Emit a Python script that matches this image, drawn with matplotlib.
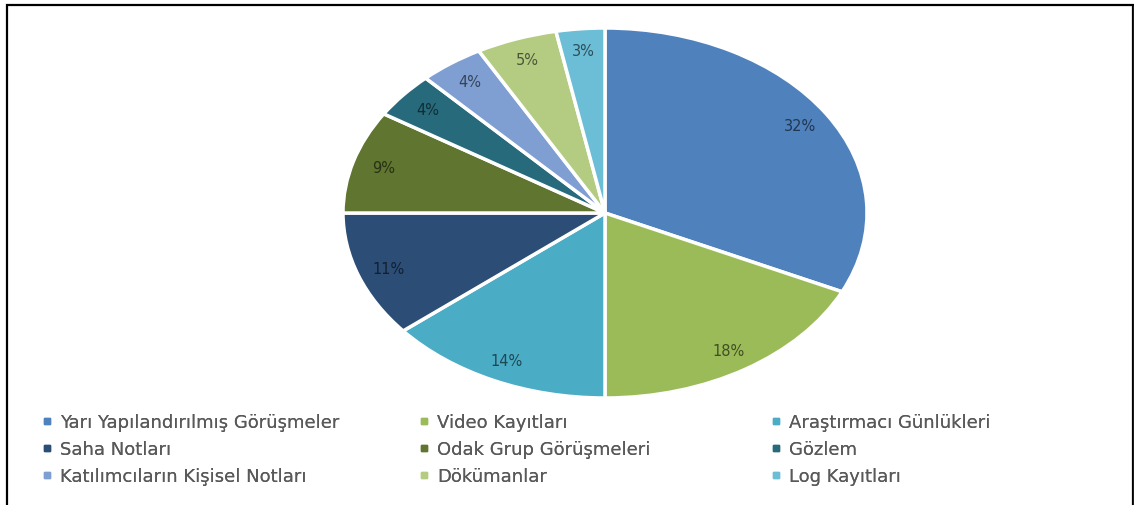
import matplotlib.pyplot as plt
from matplotlib.lines import Line2D
from matplotlib.patches import Rectangle

plt.rcParams['font.family'] = ['DejaVu Sans']

# data
labels = ["Yarı Yapılandırılmış Görüşmeler", "Video Kayıtları", "Araştırmacı Günlükleri",
          "Saha Notları", "Odak Grup Görüşmeleri", "Gözlem",
          "Katılımcıların Kişisel Notları", "Dökümanlar", "Log Kayıtları"]
values = [32, 18, 14, 11, 9, 4, 4, 5, 3]
colors = ["#4F81BD", "#9BBB59", "#4BACC6", "#2C4D75", "#5F7530",
          "#276A7C", "#7F9FD3", "#B4CC82", "#6CBDD6"]

W, H = 1134, 506
fig = plt.figure(figsize=(W / 100, H / 100), dpi=100)

# pie drawn as an ellipse (stretched like the original)
cx, cy, rx, ry = 605, 214, 262, 185
ax = fig.add_axes([(cx - rx) / W, (H - cy - ry) / H, 2 * rx / W, 2 * ry / H])

def darker(c, f=0.42):
    r, g, b = [int(c[i:i + 2], 16) / 255 for i in (1, 3, 5)]
    return (r * f, g * f, b * f)

wedges, texts, autotexts = ax.pie(
    values, colors=colors, startangle=90, counterclock=False,
    autopct=lambda p: "{:.0f}%".format(p), pctdistance=0.88,
    wedgeprops=dict(edgecolor="white", linewidth=2.5),
    textprops=dict(fontsize=10.5))
for t, c in zip(autotexts, colors):
    t.set_color(darker(c))
ax.set_aspect("auto")
ax.set_xlim(-1, 1)
ax.set_ylim(-1, 1)
ax.axis("off")

# legend: three columns, row-major order like the original
col_x = [33, 410, 762]
for i in range(3):
    idx = [i, i + 3, i + 6]
    handles = [Line2D([], [], marker="s", linestyle="none", markersize=4.5,
                      color=colors[k]) for k in idx]
    leg = fig.legend(handles, [labels[k] for k in idx], loc="upper left",
                     bbox_to_anchor=(col_x[i] / W, 1 - 405 / H),
                     frameon=False, fontsize=13, handlelength=0.6,
                     handletextpad=0.4, labelspacing=0.5, borderpad=0,
                     labelcolor="#595959")
    fig.add_artist(leg)

# outer frame
fig.add_artist(Rectangle((7 / W, -0.05), 1126 / W, 1.05 - 6 / H,
                         transform=fig.transFigure, fill=False,
                         edgecolor="black", linewidth=1.6))
fig.add_artist(Line2D([1133.5 / W, 1133.5 / W], [0, 1 - 7 / H],
                      transform=fig.transFigure, color="#9a9a9a", linewidth=1))

fig.savefig("out.png", dpi=100, facecolor="white")
